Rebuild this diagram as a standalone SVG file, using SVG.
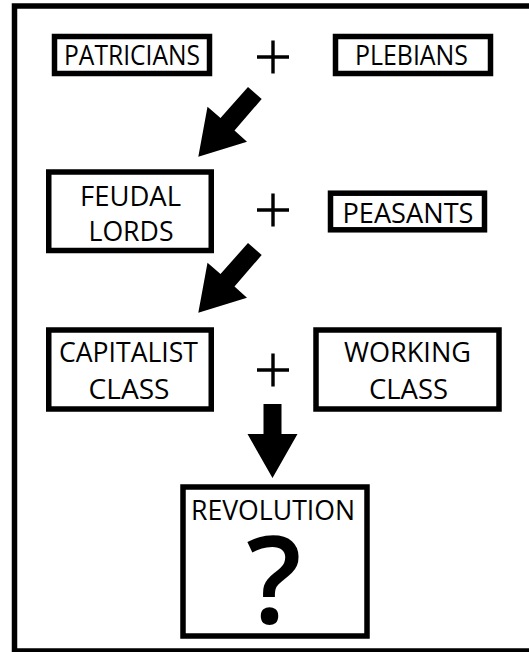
<svg xmlns="http://www.w3.org/2000/svg" width="529" height="652" viewBox="0 0 529 652">
  <style>
    .box { fill: #ffffff; stroke: #000000; stroke-width: 5.5; }
    .lbl { font-family: "Open Sans", "Noto Sans", "Liberation Sans", sans-serif; font-size: 28px; fill: #000000; text-anchor: middle; }
    .qm { font-family: "Open Sans", "Noto Sans", "Liberation Sans", sans-serif; font-size: 122px; font-weight: 600; fill: #000000; text-anchor: middle; }
    .plus { stroke: #000000; stroke-width: 3.4; fill: none; }
    .arrow { fill: #000000; stroke: none; }
  </style>
  <defs>
    <!-- diagonal block arrow pointing down-left -->
    <polygon id="diag-arrow" points="248,87 220.5,118 207.5,106.7 198.3,156.7 247,141.8 234.5,130.5 261.7,99"/>
  </defs>

  <rect width="529" height="652" fill="#ffffff"/>
  <!-- outer frame -->
  <rect x="14.5" y="6" width="540" height="645" fill="none" stroke="#000000" stroke-width="5.5"/>

  <g id="patricians">
    <rect class="box" x="54.5" y="36.5" width="155" height="37"/>
    <text class="lbl" x="132" y="65" textLength="136" lengthAdjust="spacingAndGlyphs">PATRICIANS</text>
  </g>
  <g id="plebians">
    <rect class="box" x="335.5" y="36.5" width="155" height="37"/>
    <text class="lbl" x="411.5" y="65" textLength="113" lengthAdjust="spacingAndGlyphs">PLEBIANS</text>
  </g>
  <g id="feudal-lords">
    <rect class="box" x="48.75" y="172" width="162.5" height="78.5"/>
    <text class="lbl" x="130.5" y="205.5" textLength="101" lengthAdjust="spacingAndGlyphs">FEUDAL</text>
    <text class="lbl" x="131" y="241" textLength="85" lengthAdjust="spacingAndGlyphs">LORDS</text>
  </g>
  <g id="peasants">
    <rect class="box" x="330.5" y="193.2" width="154" height="36.6"/>
    <text class="lbl" x="408" y="223" textLength="131" lengthAdjust="spacingAndGlyphs">PEASANTS</text>
  </g>
  <g id="capitalist-class">
    <rect class="box" x="48.75" y="330" width="162.5" height="79"/>
    <text class="lbl" x="128.5" y="362" textLength="139" lengthAdjust="spacingAndGlyphs">CAPITALIST</text>
    <text class="lbl" x="129" y="398.5" textLength="81" lengthAdjust="spacingAndGlyphs">CLASS</text>
  </g>
  <g id="working-class">
    <rect class="box" x="316" y="330" width="183" height="79"/>
    <text class="lbl" x="407.5" y="361.5" textLength="127" lengthAdjust="spacingAndGlyphs">WORKING</text>
    <text class="lbl" x="408.5" y="398.5" textLength="79" lengthAdjust="spacingAndGlyphs">CLASS</text>
  </g>
  <g id="revolution">
    <rect class="box" x="183" y="487" width="184" height="149"/>
    <text class="lbl" x="273" y="519.5" textLength="164" lengthAdjust="spacingAndGlyphs">REVOLUTION</text>
    <text class="qm" x="274" y="623">?</text>
  </g>

  <g id="connectors">
    <!-- plus signs between paired classes -->
    <path class="plus" d="M257 57 H289 M273 40.5 V73.5"/>
    <path class="plus" d="M257 210 H289 M273 193.5 V226.5"/>
    <path class="plus" d="M257 370 H289 M273 353.5 V386.5"/>
    <!-- block arrows -->
    <use href="#diag-arrow" class="arrow"/>
    <use href="#diag-arrow" class="arrow" transform="translate(0,156)"/>
    <polygon class="arrow" points="263.5,404 281.5,404 281.5,434 297.5,434 272.5,478 247.5,434 263.5,434"/>
  </g>
</svg>
